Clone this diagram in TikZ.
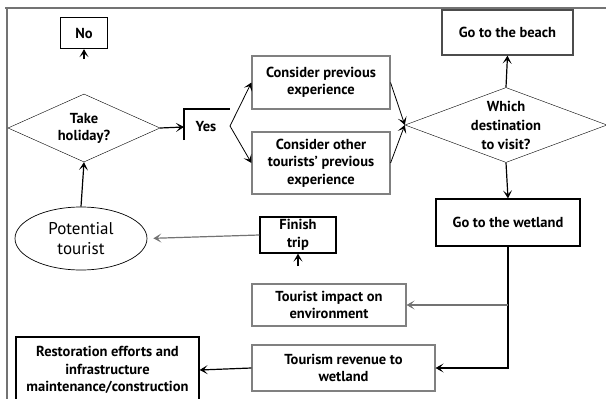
\documentclass[tikz,border=0pt]{standalone}
\usepackage{fontspec}
\setmainfont{PT Sans}
\usetikzlibrary{arrows.meta, shapes.geometric}

\begin{document}
\begin{tikzpicture}[x=1pt, y=-1pt,
  box/.style={draw, line width=1.3pt, align=center, inner sep=0pt,
    font=\bfseries\fontsize{14.5}{17.5}\selectfont},
  greybox/.style={box, draw=black!50, line width=1.1pt},
  decision/.style={diamond, draw, align=center, aspect=2.65, inner sep=-6pt,
    font=\bfseries\fontsize{14.5}{17}\selectfont},
  arr/.style={-{Stealth[length=8pt, width=9pt, inset=4pt]}, line width=1.2pt}]
  \useasboundingbox (0,0) rectangle (606,399);
  % Frame
  \draw[black!55, line width=1.1pt] (5,8) -- (606,8);
  \draw[black!55, line width=1.1pt] (7,8) -- (7,399);
  % Decision to take a holiday
  \node[box, minimum width=47, minimum height=31] (no) at (84,33) {No};
  \node[decision, minimum width=152, minimum height=68] (holiday) at (84,128) {Take\\holiday?};
  \coordinate (nofoot) at (84,59);
  \draw[arr] (nofoot) -- (no.south);
  \node[font=\bfseries\fontsize{14.5}{17}\selectfont] (yes) at (206,127) {Yes};
  \draw[line width=1.2pt] (184,140) |- (230,109);
  \coordinate (yesleft) at (184,127);
  \coordinate (fork) at (230,126);
  \draw[arr] (holiday.east) -- (yesleft);
  % Experience
  \node[greybox, minimum width=138, minimum height=53] (prev) at (321,82.5) {Consider previous\\experience};
  \node[greybox, minimum width=138, minimum height=62] (other) at (321,163) {Consider other\\tourists' previous\\experience};
  \draw[arr, line width=0.8pt] (fork) -- (prev.west);
  \draw[arr, line width=0.8pt] (fork) -- (other.west);
  % Destination
  \node[decision, minimum width=202, minimum height=75, font=\bfseries\fontsize{14.5}{19}\selectfont] (which) at (506,125) {Which\\destination\\to visit?};
  \draw[arr, line width=0.8pt] (prev.east) -- (which.west);
  \draw[arr, line width=0.8pt] (other.east) -- (which.west);
  \node[box, draw=black!70, minimum width=131, minimum height=45] (beach) at (507.5,32.5) {Go to the beach};
  \node[box, minimum width=144, minimum height=47] (wetland) at (508,222.5) {Go to the wetland};
  \draw[arr] (which.north) -- (beach.south);
  \draw[arr] (which.south) -- (wetland.north);
  % Effects of the visit
  \node[greybox, minimum width=154, minimum height=42] (impact) at (329,305) {Tourist impact on\\environment};
  \node[greybox, minimum width=183, minimum height=46] (revenue) at (343.5,368) {Tourism revenue to\\wetland};
  \node[box, minimum width=183, minimum height=66] (restore) at (107.5,370) {Restoration efforts and\\infrastructure\\maintenance/construction};
  \coordinate (split) at (wetland.south |- impact.east);
  \draw[arr] (wetland.south) |- (revenue.east);
  \draw[arr, black!55] (split) -- (impact.east);
  \draw[arr] (revenue.west) -- (restore.east);
  % Back home
  \node[box, minimum width=76, minimum height=36] (finish) at (298,235) {Finish\\trip};
  \node[ellipse, draw, line width=0.7pt, minimum width=132, minimum height=63, align=center,
    font=\fontsize{17}{20}\selectfont] (tourist) at (81,238.5) {Potential\\tourist};
  \coordinate (finishfoot) at (298,266);
  \draw[arr] (finishfoot) -- (finish.south);
  \draw[arr, black!55, shorten >=6pt] (finish.west) -- (tourist.east);
  \draw[arr] (tourist.north) -- (holiday.south);
\end{tikzpicture}
\end{document}
